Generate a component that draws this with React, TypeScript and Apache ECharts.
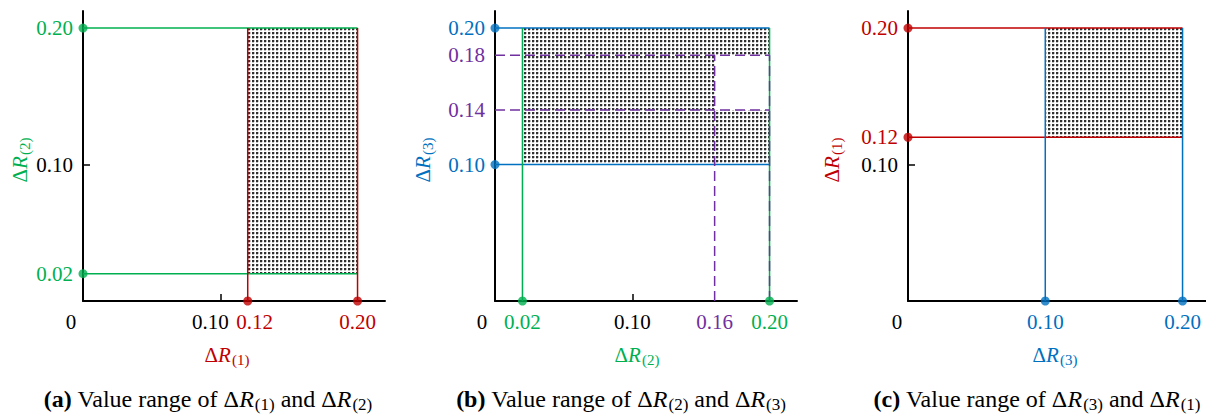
import React, { useEffect, useRef } from 'react';
import * as echarts from 'echarts';

const FONT = '"Liberation Serif", "Times New Roman", serif';
const GREEN = '#00b050';
const RED = '#c00000';
const BLUE = '#0070c0';
const PURPLE = '#7030a0';
const BLACK = '#000000';

// Panel (a): x = ΔR(1), y = ΔR(2)
const rangeA_x = [0.12, 0.2];
const rangeA_y = [0.02, 0.2];
const xLabelsA = [0, 0.1, 0.12, 0.2];
const xLabelColorsA = [BLACK, BLACK, RED, RED];
const yLabelsA = [0.02, 0.1, 0.2];
const yLabelColorsA = [GREEN, BLACK, GREEN];
const xTicksA = [0.1];
const yTicksA = [0.1];

// Panel (b): x = ΔR(2), y = ΔR(3)
const rangeB_x = [0.02, 0.2];
const rangeB_y = [0.1, 0.2];
const holeB_x = [0.16, 0.2];
const holeB_y = [0.14, 0.18];
const xLabelsB = [0, 0.02, 0.1, 0.16, 0.2];
const xLabelColorsB = [BLACK, GREEN, BLACK, PURPLE, GREEN];
const yLabelsB = [0.1, 0.14, 0.18, 0.2];
const yLabelColorsB = [BLUE, PURPLE, PURPLE, BLUE];
const xTicksB = [0.1];
const yTicksB: number[] = [];

// Panel (c): x = ΔR(3), y = ΔR(1)
const rangeC_x = [0.1, 0.2];
const rangeC_y = [0.12, 0.2];
const xLabelsC = [0, 0.1, 0.2];
const xLabelColorsC = [BLACK, BLUE, BLUE];
const yLabelsC = [0.1, 0.12, 0.2];
const yLabelColorsC = [BLACK, RED, RED];
const xTicksC: number[] = [];
const yTicksC = [0.1];

const X_MAX = 0.22;
const Y_MAX = 0.2125;

function makePattern(): any {
  const c = document.createElement('canvas');
  c.width = 4;
  c.height = 4;
  const ctx = c.getContext('2d')!;
  ctx.fillStyle = '#ffffff';
  ctx.fillRect(0, 0, 4, 4);
  ctx.fillStyle = '#c4c4c4';
  ctx.fillRect(2, 0, 1, 2);
  ctx.fillRect(0, 2, 2, 1);
  ctx.fillStyle = '#303030';
  ctx.fillRect(0, 0, 2, 2);
  return { image: c, repeat: 'repeat' };
}

function fmt(v: number) {
  return v === 0 ? '0' : v.toFixed(2);
}

function labelOpt(values: number[], colors: string[], shifts: number[], margin: number) {
  const rich: any = {};
  values.forEach((v, i) => {
    const s = shifts[i] || 0;
    rich['t' + i] = {
      color: colors[i],
      fontSize: 21,
      fontFamily: FONT,
      padding: s < 0 ? [0, -2 * s, 0, 0] : [0, 0, 0, 2 * s],
    };
  });
  return {
    customValues: values,
    margin,
    formatter: (val: number) => {
      const i = values.findIndex((v) => Math.abs(v - val) < 1e-9);
      return `{t${i < 0 ? 0 : i}|${fmt(val)}}`;
    },
    rich,
  };
}

function nameRich(color: string) {
  return {
    d: { fontFamily: FONT, fontSize: 21, color, lineHeight: 24 },
    r: { fontFamily: FONT, fontSize: 21, color, fontStyle: 'italic', lineHeight: 24 },
    s: { fontFamily: FONT, fontSize: 15, color, lineHeight: 15, padding: [9, 0, 0, 1] },
  };
}

function axisName(sub: string) {
  return `{d|Δ}{r|R}{s|(${sub})}`;
}

export default function App() {
  const ref = useRef<HTMLDivElement>(null);

  useEffect(() => {
    document.body.style.margin = '0';
    const chart = echarts.init(ref.current!, undefined, { renderer: 'svg' });
    const pattern = makePattern();

    const grids = [
      { left: 83, top: 11, width: 302, height: 290 },
      { left: 495, top: 11, width: 302, height: 290 },
      { left: 908, top: 11, width: 302, height: 290 },
    ].map((g) => ({ ...g, outerBoundsMode: 'none', containLabel: false }));

    const axisLine = { show: true, onZero: false, lineStyle: { color: BLACK, width: 2 } };

    const mkX = (gi: number, labels: number[], colors: string[], shifts: number[], ticks: number[], nameSub: string, nameColor: string, nameShift: number) => ({
      type: 'value',
      gridIndex: gi,
      min: 0,
      max: X_MAX,
      axisLine,
      splitLine: { show: false },
      axisTick: { show: ticks.length > 0, inside: true, length: 7, customValues: ticks, lineStyle: { color: BLACK, width: 1.5 } },
      axisLabel: labelOpt(labels, colors, shifts, 10),
      name: axisName(nameSub),
      nameLocation: 'middle',
      nameGap: 42,
      nameTextStyle: { rich: nameRich(nameColor), padding: [0, -2 * nameShift, 0, 0] },
    });

    const mkY = (gi: number, labels: number[], colors: string[], ticks: number[], nameSub: string, nameColor: string, gap: number) => ({
      type: 'value',
      gridIndex: gi,
      min: 0,
      max: Y_MAX,
      axisLine,
      splitLine: { show: false },
      axisTick: { show: ticks.length > 0, inside: true, length: 7, customValues: ticks, lineStyle: { color: BLACK, width: 1.5 } },
      axisLabel: labelOpt(labels, colors, [], 10),
      name: axisName(nameSub),
      nameLocation: 'middle',
      nameRotate: 90,
      nameGap: gap,
      nameTextStyle: { rich: nameRich(nameColor), padding: [0, 8, 0, 0] },
    });

    const xAxis = [
      mkX(0, xLabelsA, xLabelColorsA, [-12, -10, 7, 0], xTicksA, '1', RED, -7),
      mkX(1, xLabelsB, xLabelColorsB, [-13, 0, 0, 0, 0], xTicksB, '2', GREEN, -9),
      mkX(2, xLabelsC, xLabelColorsC, [-11, 0, 0], xTicksC, '3', BLUE, -4),
    ];
    const yAxis = [
      mkY(0, yLabelsA, yLabelColorsA, yTicksA, '2', GREEN, 41),
      mkY(1, yLabelsB, yLabelColorsB, yTicksB, '3', BLUE, 60),
      mkY(2, yLabelsC, yLabelColorsC, yTicksC, '1', RED, 64),
    ];

    const series: any[] = [];

    const addRects = (gi: number, rects: number[][]) => {
      series.push({
        type: 'custom',
        xAxisIndex: gi,
        yAxisIndex: gi,
        z: 1,
        clip: false,
        encode: { x: [0, 1], y: [2, 3] },
        data: rects,
        renderItem: (params: any, api: any) => {
          const p0 = api.coord([api.value(0), api.value(3)]);
          const p1 = api.coord([api.value(1), api.value(2)]);
          return {
            type: 'rect',
            shape: { x: p0[0], y: p0[1], width: p1[0] - p0[0], height: p1[1] - p0[1] },
            style: { fill: pattern },
          };
        },
      });
    };

    const addSeg = (gi: number, pts: number[][], color: string, dashed = false, z = 3) => {
      series.push({
        type: 'line',
        xAxisIndex: gi,
        yAxisIndex: gi,
        data: pts,
        symbol: 'none',
        clip: false,
        z,
        lineStyle: { color, width: 1.5, type: dashed ? [10, 5] : 'solid' },
      });
    };

    const addDots = (gi: number, pts: number[][], color: string) => {
      series.push({
        type: 'scatter',
        xAxisIndex: gi,
        yAxisIndex: gi,
        data: pts,
        symbol: 'circle',
        symbolSize: 9,
        clip: false,
        z: 5,
        itemStyle: { color },
      });
    };

    const addPanel = (gi: number, rx: number[], ry: number[], hColor: string, vColor: string) => {
      ry.forEach((y) => addSeg(gi, [[0, y], [rx[1], y]], hColor));
      rx.forEach((x) => addSeg(gi, [[x, 0], [x, ry[1]]], vColor));
      addDots(gi, ry.map((y) => [0, y]), hColor);
      addDots(gi, rx.map((x) => [x, 0]), vColor);
    };

    // Panel (a)
    addRects(0, [[rangeA_x[0], rangeA_x[1], rangeA_y[0], rangeA_y[1]]]);
    addPanel(0, rangeA_x, rangeA_y, GREEN, RED);

    // Panel (b) with the excluded rectangle
    addRects(1, [
      [rangeB_x[0], rangeB_x[1], holeB_y[1], rangeB_y[1]],
      [rangeB_x[0], rangeB_x[1], rangeB_y[0], holeB_y[0]],
      [rangeB_x[0], holeB_x[0], holeB_y[0], holeB_y[1]],
    ]);
    addPanel(1, rangeB_x, rangeB_y, BLUE, GREEN);
    holeB_y.forEach((y) => addSeg(1, [[0, y], [holeB_x[1], y]], PURPLE, true, 4));
    holeB_x.forEach((x) => addSeg(1, [[x, 0], [x, holeB_y[1]]], PURPLE, true, 4));

    // Panel (c)
    addRects(2, [[rangeC_x[0], rangeC_x[1], rangeC_y[0], rangeC_y[1]]]);
    addPanel(2, rangeC_x, rangeC_y, RED, BLUE);

    const capRich = {
      b: { fontFamily: FONT, fontSize: 24, fontWeight: 'bold', color: BLACK, lineHeight: 28 },
      n: { fontFamily: FONT, fontSize: 24, color: BLACK, lineHeight: 28 },
      i: { fontFamily: FONT, fontSize: 24, fontStyle: 'italic', color: BLACK, lineHeight: 28 },
      s: { fontFamily: FONT, fontSize: 17, color: BLACK, lineHeight: 17, padding: [11, 0, 0, 1] },
    };
    const caption = (x: number, tag: string, s1: string, s2: string) => ({
      type: 'text',
      x,
      y: 399,
      style: {
        text: `{b|(${tag})}{n| Value range of Δ}{i|R}{s|(${s1})}{n| and Δ}{i|R}{s|(${s2})}`,
        rich: capRich,
        align: 'center',
        verticalAlign: 'middle',
      },
    });

    chart.setOption({
      animation: false,
      grid: grids,
      xAxis,
      yAxis,
      series,
      graphic: [
        caption(208, 'a', '1', '2'),
        caption(621, 'b', '2', '3'),
        caption(1037, 'c', '3', '1'),
      ],
    });

    return () => chart.dispose();
  }, []);

  return <div ref={ref} style={{ width: 1206, height: 416 }} />;
}
